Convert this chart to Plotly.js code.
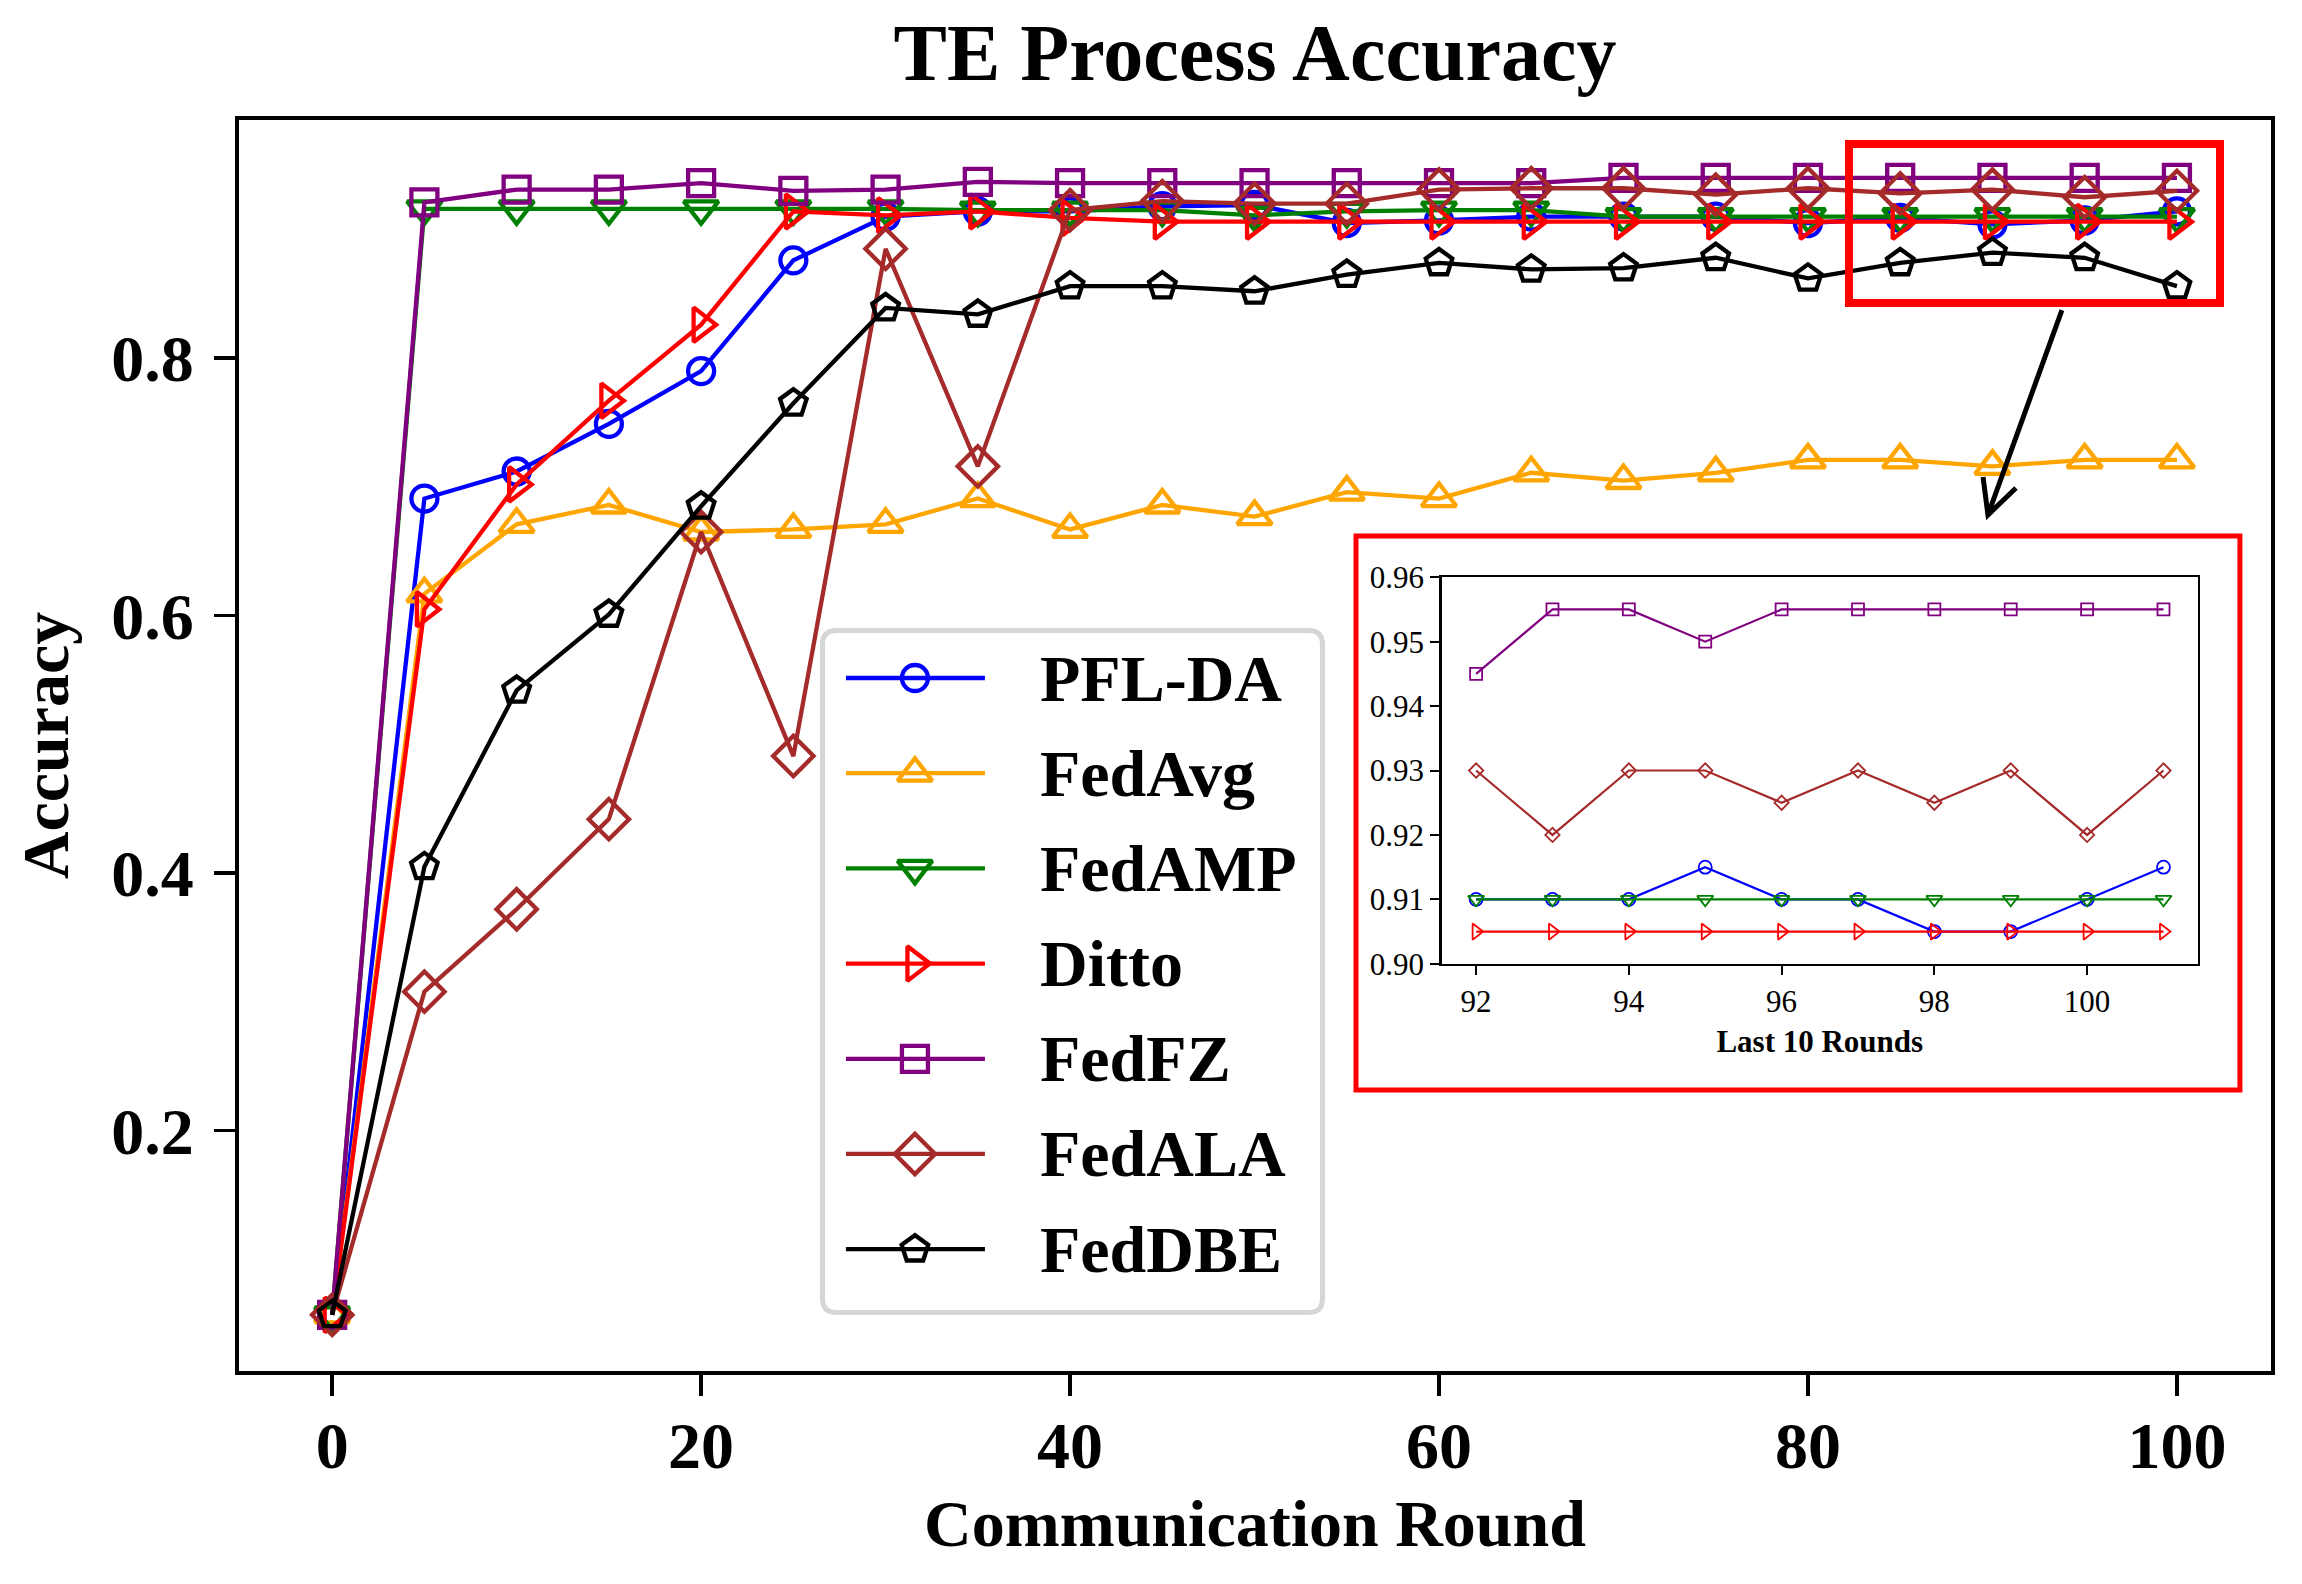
<!DOCTYPE html>
<html>
<head>
<meta charset="utf-8">
<script src="https://cdn.plot.ly/plotly-3.0.1.min.js"></script>
<style>
html, body { margin: 0; padding: 0; background: #ffffff; }
#chart { width: 2302px; height: 1584px; }
</style>
</head>
<body>
<div id="chart"></div>
<script>
// ---------------- data ----------------
const rounds = [0, 5, 10, 15, 20, 25, 30, 35, 40, 45, 50, 55, 60, 65, 70, 75, 80, 85, 90, 95, 100];
const seriesNames = ['PFL-DA', 'FedAvg', 'FedAMP', 'Ditto', 'FedFZ', 'FedALA', 'FedDBE'];
const pflDA  = [0.057, 0.691, 0.712, 0.749, 0.790, 0.876, 0.910, 0.914, 0.914, 0.918, 0.919, 0.905, 0.907, 0.910, 0.910, 0.910, 0.905, 0.909, 0.904, 0.907, 0.914];
const fedAvg = [0.057, 0.617, 0.671, 0.686, 0.665, 0.667, 0.671, 0.691, 0.667, 0.686, 0.677, 0.696, 0.691, 0.711, 0.705, 0.711, 0.721, 0.721, 0.716, 0.721, 0.721];
const fedAMP = [0.057, 0.916, 0.916, 0.916, 0.916, 0.916, 0.916, 0.915, 0.915, 0.915, 0.911, 0.914, 0.915, 0.915, 0.910, 0.910, 0.910, 0.910, 0.910, 0.910, 0.910];
const ditto  = [0.057, 0.605, 0.702, 0.767, 0.826, 0.914, 0.911, 0.914, 0.909, 0.906, 0.906, 0.906, 0.906, 0.906, 0.906, 0.906, 0.906, 0.906, 0.906, 0.906, 0.906];
const fedFZ  = [0.057, 0.921, 0.931, 0.931, 0.936, 0.930, 0.931, 0.937, 0.936, 0.936, 0.936, 0.936, 0.936, 0.936, 0.940, 0.940, 0.940, 0.940, 0.940, 0.940, 0.940];
const fedALA = [0.057, 0.308, 0.372, 0.442, 0.665, 0.491, 0.885, 0.716, 0.915, 0.922, 0.920, 0.920, 0.931, 0.932, 0.932, 0.927, 0.932, 0.928, 0.931, 0.925, 0.930];
const fedDBE = [0.057, 0.405, 0.542, 0.601, 0.685, 0.765, 0.839, 0.834, 0.856, 0.856, 0.852, 0.865, 0.874, 0.869, 0.870, 0.878, 0.862, 0.874, 0.882, 0.878, 0.856];

const xTickVals = [0, 20, 40, 60, 80, 100];
const yTickVals = [0.2, 0.4, 0.6, 0.8];

// inset (last 10 rounds)
const insetRounds = [92, 93, 94, 95, 96, 97, 98, 99, 100, 101];
const insetNames  = ['PFL-DA', 'FedAMP', 'Ditto', 'FedFZ', 'FedALA'];
const insetPflDA  = [0.910, 0.910, 0.910, 0.915, 0.910, 0.910, 0.905, 0.905, 0.910, 0.915];
const insetFedAMP = [0.910, 0.910, 0.910, 0.910, 0.910, 0.910, 0.910, 0.910, 0.910, 0.910];
const insetDitto  = [0.905, 0.905, 0.905, 0.905, 0.905, 0.905, 0.905, 0.905, 0.905, 0.905];
const insetFedFZ  = [0.945, 0.955, 0.955, 0.950, 0.955, 0.955, 0.955, 0.955, 0.955, 0.955];
const insetFedALA = [0.930, 0.920, 0.930, 0.930, 0.925, 0.930, 0.925, 0.930, 0.920, 0.930];
const insetXTickVals = [92, 94, 96, 98, 100];
const insetYTickVals = [0.90, 0.91, 0.92, 0.93, 0.94, 0.95, 0.96];

// ---------------- styles ----------------
const FONT = '"Liberation Serif", "Times New Roman", Times, serif';
const colors  = ['#0000ff', '#ffa500', '#008000', '#ff0000', '#800080', '#a52a2a', '#000000'];
const symbols = ['circle-open', 'triangle-up-open', 'triangle-down-open', 'triangle-right-open', 'square-open', 'diamond-open', 'pentagon-open'];
const msizes  = [26, 30, 30, 30, 26, 31, 28];
const seriesValues = [pflDA, fedAvg, fedAMP, ditto, fedFZ, fedALA, fedDBE];

const insetValues = [insetPflDA, insetFedAMP, insetDitto, insetFedFZ, insetFedALA];
const insetIdx = insetNames.map(n => seriesNames.indexOf(n));
const insetSizes = [13, 14, 14, 12, 11];

const traces = [];

// main series
seriesNames.forEach((name, i) => {
  traces.push({
    type: 'scatter', mode: 'lines+markers', name: name,
    x: rounds, y: seriesValues[i], xaxis: 'x', yaxis: 'y',
    line: { color: colors[i], width: 4.3 },
    marker: { symbol: symbols[i], size: msizes[i], color: colors[i], line: { color: colors[i], width: 4.3 } },
    showlegend: false, cliponaxis: false
  });
});

// inset series
insetNames.forEach((name, k) => {
  const i = insetIdx[k];
  traces.push({
    type: 'scatter', mode: 'lines+markers', name: name + ' (last 10)',
    x: insetRounds, y: insetValues[k], xaxis: 'x3', yaxis: 'y3',
    line: { color: colors[i], width: 2.2 },
    marker: { symbol: symbols[i], size: insetSizes[k], color: colors[i], line: { color: colors[i], width: 1.8 } },
    showlegend: false, cliponaxis: false
  });
});

// custom legend samples (drawn in a hidden pixel-like axis pair)
const LEG_ROW0 = 50, LEG_STEP = 95.2;
const LEG_X0 = 26, LEG_XM = 95, LEG_X1 = 165, LEG_TX = 218;
const legendAnnotations = [];
seriesNames.forEach((name, i) => {
  const yy = LEG_ROW0 + i * LEG_STEP;
  traces.push({
    type: 'scatter', mode: 'lines+markers', name: name + ' legend',
    x: [LEG_X0, LEG_XM, LEG_X1], y: [yy, yy, yy], xaxis: 'x2', yaxis: 'y2',
    line: { color: colors[i], width: 4.3 },
    marker: { symbol: symbols[i], size: msizes[i], color: colors[i], opacity: [0, 1, 0], line: { color: colors[i], width: 4.3 } },
    showlegend: false, cliponaxis: false
  });
  legendAnnotations.push({
    xref: 'x2', yref: 'y2', x: LEG_TX, y: yy, xanchor: 'left', yanchor: 'middle',
    text: name, showarrow: false,
    font: { family: FONT, size: 66, weight: 'bold', color: '#000000' }
  });
});

// legend frame (rounded rectangle, paper coords)
const lxL = 0.28715, lxR = 0.53322, lyT = 0.59193, lyB = 0.04676, rx = 0.0069, ry = 0.0112;
const f = v => v.toFixed(5);
const legendPath =
  `M${f(lxL + rx)},${f(lyT)} L${f(lxR - rx)},${f(lyT)} Q${f(lxR)},${f(lyT)} ${f(lxR)},${f(lyT - ry)} ` +
  `L${f(lxR)},${f(lyB + ry)} Q${f(lxR)},${f(lyB)} ${f(lxR - rx)},${f(lyB)} ` +
  `L${f(lxL + rx)},${f(lyB)} Q${f(lxL)},${f(lyB)} ${f(lxL)},${f(lyB + ry)} ` +
  `L${f(lxL)},${f(lyT - ry)} Q${f(lxL)},${f(lyT)} ${f(lxL + rx)},${f(lyT)} Z`;

const shapes = [
  { type: 'path', xref: 'paper', yref: 'paper', path: legendPath, fillcolor: 'rgba(0,0,0,0)',
    line: { color: '#d6d6d6', width: 5 }, layer: 'above' },
  // highlight box around last rounds
  { type: 'rect', xref: 'paper', yref: 'paper', x0: 0.7923, x1: 0.9749, y0: 0.8537, y1: 0.9808,
    line: { color: '#ff0000', width: 8 }, fillcolor: 'rgba(0,0,0,0)', layer: 'above' },
  // arrow from highlight box to inset
  { type: 'path', xref: 'paper', yref: 'paper',
    path: 'M0.8971,0.8481 L0.8607,0.6843 M0.8583,0.7146 L0.8607,0.6843 L0.8745,0.7058',
    line: { color: '#000000', width: 5 }, layer: 'above' },
  // inset red frame
  { type: 'rect', xref: 'paper', yref: 'paper', x0: 0.5497, x1: 0.9847, y0: 0.2246, y1: 0.6675,
    line: { color: '#ff0000', width: 5 }, fillcolor: 'rgba(0,0,0,0)', layer: 'above' }
];

const mainTick = { family: FONT, size: 66, weight: 'bold', color: '#000000' };
const insetTick = { family: FONT, size: 31, color: '#000000' };

const layout = {
  width: 2302, height: 1584,
  margin: { l: 239, r: 31, t: 120, b: 213, pad: 0 },
  paper_bgcolor: '#ffffff', plot_bgcolor: '#ffffff',
  showlegend: false,
  font: { family: FONT, color: '#000000' },
  title: {
    text: 'TE Process Accuracy',
    font: { family: FONT, size: 80, weight: 'bold', color: '#000000' },
    x: 0.5, xref: 'paper', xanchor: 'center',
    y: 1 - 51.5 / 1584, yref: 'container', yanchor: 'middle'
  },
  xaxis: {
    domain: [0, 1], anchor: 'y', range: [-5.05, 105.1],
    tickmode: 'array', tickvals: xTickVals, ticks: 'outside', ticklen: 21, tickwidth: 3.5, tickcolor: '#000000',
    showline: true, mirror: true, linewidth: 4, linecolor: '#000000',
    showgrid: false, zeroline: false, tickfont: mainTick, ticklabelstandoff: -7,
    title: { text: 'Communication Round', font: { family: FONT, size: 66, weight: 'bold', color: '#000000' }, standoff: 20 }
  },
  yaxis: {
    domain: [0, 1], anchor: 'x', range: [0.0134, 0.985],
    tickmode: 'array', tickvals: yTickVals, tickformat: '.1f', ticks: 'outside', ticklen: 21, tickwidth: 3.5, tickcolor: '#000000',
    showline: true, mirror: true, linewidth: 4, linecolor: '#000000',
    showgrid: false, zeroline: false, tickfont: mainTick, ticklabelstandoff: 7,
    title: { text: 'Accuracy', font: { family: FONT, size: 66, weight: 'bold', color: '#000000' }, standoff: 22 }
  },
  xaxis2: { domain: [0.2859, 0.5344], anchor: 'y2', range: [0, 505], visible: false, fixedrange: true },
  yaxis2: { domain: [0.0448, 0.5939], anchor: 'x2', range: [687, 0], visible: false, fixedrange: true },
  xaxis3: {
    domain: [0.5919, 0.9640], anchor: 'y3', range: [91.55, 101.45],
    tickmode: 'array', tickvals: insetXTickVals, ticks: 'outside', ticklen: 9, tickwidth: 2, tickcolor: '#000000',
    showline: true, mirror: true, linewidth: 2.5, linecolor: '#000000',
    showgrid: false, zeroline: false, tickfont: insetTick,
    title: { text: 'Last 10 Rounds', font: { family: FONT, size: 31, weight: 'bold', color: '#000000' }, standoff: 12 }
  },
  yaxis3: {
    domain: [0.3255, 0.6345], anchor: 'x3', range: [0.9, 0.96],
    tickmode: 'array', tickvals: insetYTickVals, tickformat: '.2f', ticks: 'outside', ticklen: 9, tickwidth: 2, tickcolor: '#000000',
    showline: true, mirror: true, linewidth: 2.5, linecolor: '#000000',
    showgrid: false, zeroline: false, tickfont: insetTick
  },
  shapes: shapes,
  annotations: legendAnnotations
};

Plotly.newPlot('chart', traces, layout, { staticPlot: true, displayModeBar: false, responsive: false });
</script>
</body>
</html>
